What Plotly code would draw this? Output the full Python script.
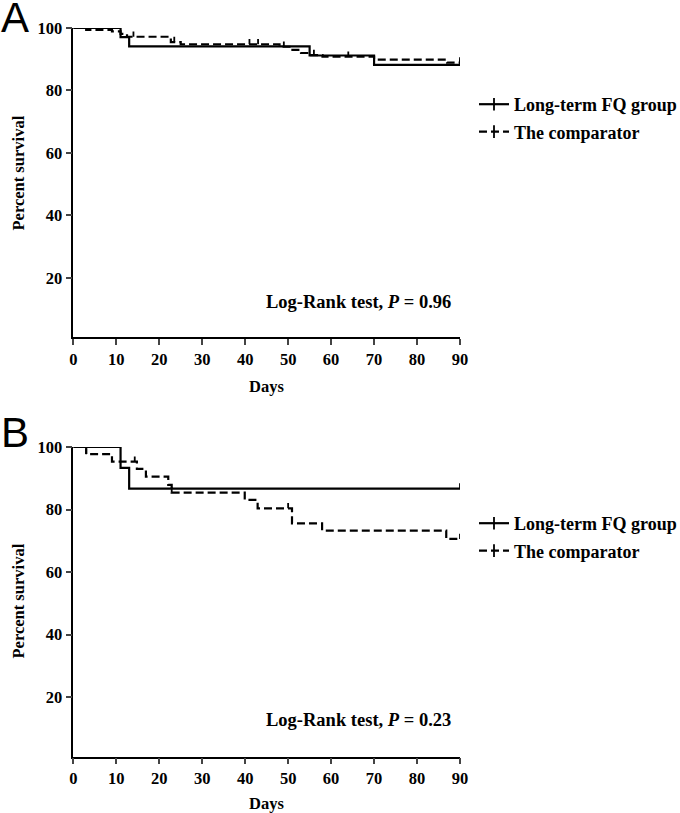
import numpy as np
import plotly.graph_objects as go

# ---------------- data ----------------
series_names = ["Long-term FQ group", "The comparator"]
x_ticks = [0, 10, 20, 30, 40, 50, 60, 70, 80, 90]
y_ticks = [20, 40, 60, 80, 100]

# Panel A
a_fq_days = [0, 11, 13, 55, 70, 90]
a_fq_surv = [100, 97.1, 94.1, 91.2, 88.2, 88.2]
a_fq_censor = [90]
a_cmp_days = [0, 3, 9, 11, 12.5, 22.7, 25, 48, 51, 53, 55, 58, 70, 87, 90]
a_cmp_surv = [100, 99.4, 98.9, 98.1, 97.2, 95.5, 94.8, 94.0, 93.0, 92.0, 91.3, 90.8, 89.9, 88.9, 88.9]
a_cmp_censor = [2.7, 14, 23.5, 41, 43, 49, 56, 64, 90]
a_pvalue = "0.96"

# Panel B
b_fq_days = [0, 11, 13, 90]
b_fq_surv = [100, 93.3, 86.7, 86.7]
b_fq_censor = [90]
b_cmp_days = [0, 3, 9, 14.8, 16.9, 22.1, 22.9, 39.9, 42.9, 50.9, 57.9, 86.8, 90]
b_cmp_surv = [100, 97.7, 95.3, 93.0, 90.5, 87.9, 85.4, 83.1, 80.4, 75.6, 73.3, 70.6, 70.6]
b_cmp_censor = [3, 14.3, 22.9, 50, 90]
b_pvalue = "0.23"

# ---------------- helpers ----------------
W, H = 680, 813
SERIF = "Liberation Serif, Times New Roman, serif"
TICK_H = 1.7  # censor tick height in survival units


def px(x):
    return x / W


def py(y):
    return 1 - y / H


def step_val(days, surv, t):
    idx = np.searchsorted(np.asarray(days), t, side="right") - 1
    return surv[max(idx, 0)]


def censor_segments(days, surv, times):
    xs, ys = [], []
    for t in times:
        v = step_val(days, surv, t)
        xs += [t, t, None]
        ys += [v, v + TICK_H, None]
    return xs, ys


fig = go.Figure()

panels = [
    dict(xa="x", ya="y", legend="legend",
         fq=(a_fq_days, a_fq_surv, a_fq_censor),
         cmp=(a_cmp_days, a_cmp_surv, a_cmp_censor)),
    dict(xa="x2", ya="y2", legend="legend2",
         fq=(b_fq_days, b_fq_surv, b_fq_censor),
         cmp=(b_cmp_days, b_cmp_surv, b_cmp_censor)),
]

LW = 2.2
DASH = "8px,4px"
for p in panels:
    for key, name, dash, grp in [("fq", series_names[0], "solid", "g1"),
                                 ("cmp", series_names[1], DASH, "g2")]:
        d, s, c = p[key]
        fig.add_trace(go.Scatter(
            x=d, y=s, mode="lines", line=dict(color="black", width=LW, dash=dash, shape="hv"),
            xaxis=p["xa"], yaxis=p["ya"], showlegend=False, cliponaxis=False, hoverinfo="skip"))
        cx, cy = censor_segments(d, s, c)
        fig.add_trace(go.Scatter(
            x=cx, y=cy, mode="lines", line=dict(color="black", width=1.8),
            xaxis=p["xa"], yaxis=p["ya"], showlegend=False, cliponaxis=False, hoverinfo="skip"))
        # legend entry
        fig.add_trace(go.Scatter(
            x=[None], y=[None], mode="lines+markers", name=name,
            line=dict(color="black", width=LW, dash=dash),
            marker=dict(symbol="line-ns", size=9, line=dict(color="black", width=1.8)),
            xaxis=p["xa"], yaxis=p["ya"], legend=p["legend"], legendgroup=grp, showlegend=True))

axis_font = dict(family=SERIF, size=16.5, color="black", weight="bold")
common_x = dict(range=[0, 90], tickvals=x_ticks, ticks="outside", ticklen=6, tickwidth=1.5,
                showline=True, linewidth=1.5, linecolor="black", showgrid=False, zeroline=False,
                tickfont=axis_font, domain=[73.3 / W, 460 / W], fixedrange=True, automargin=False)
common_y = dict(range=[1, 100], tickvals=y_ticks, ticks="outside", ticklen=6, tickwidth=1.5,
                showline=True, linewidth=1.5, linecolor="black", showgrid=False, zeroline=False,
                tickfont=axis_font, fixedrange=True, automargin=False)

legend_common = dict(font=dict(family=SERIF, size=18, color="black", weight="bold"),
                     bgcolor="rgba(0,0,0,0)", xanchor="left", yanchor="top",
                     traceorder="grouped", tracegroupgap=1, itemwidth=30)

fig.update_layout(
    width=W, height=H,
    margin=dict(l=0, r=0, t=0, b=0, pad=0, autoexpand=False),
    paper_bgcolor="white", plot_bgcolor="white",
    showlegend=True,
    xaxis=dict(common_x, anchor="y"),
    yaxis=dict(common_y, anchor="x", domain=[py(337.3), py(28)]),
    xaxis2=dict(common_x, anchor="y2"),
    yaxis2=dict(common_y, anchor="x2", domain=[py(756.7), py(447)]),
    legend=dict(legend_common, x=px(474), y=py(86)),
    legend2=dict(legend_common, x=px(474), y=py(505)),
)

title_font = dict(family=SERIF, size=16.5, color="black", weight="bold")
lr_font = dict(family=SERIF, size=18.5, color="black", weight="bold")
annos = []
for (letter, ly), (ytitle_y, days_y, lr_y, pv) in zip(
        [("A", 17.5), ("B", 432)],
        [(173.5, 386, 302, a_pvalue), (601.5, 803, 720, b_pvalue)]):
    annos.append(dict(text=letter, x=px(15), y=py(ly), xref="paper", yref="paper",
                      showarrow=False, font=dict(family="Liberation Sans, Arial, sans-serif", size=42, color="black"),
                      xanchor="center", yanchor="middle"))
    annos.append(dict(text="Percent survival", x=px(18), y=py(ytitle_y), xref="paper", yref="paper",
                      showarrow=False, textangle=-90, font=title_font, xanchor="center", yanchor="middle"))
    annos.append(dict(text="Days", x=px(266.5), y=py(days_y), xref="paper", yref="paper",
                      showarrow=False, font=title_font, xanchor="center", yanchor="middle"))
    annos.append(dict(text=f"Log-Rank test, <i>P</i> = {pv}", x=px(358.5), y=py(lr_y),
                      xref="paper", yref="paper", showarrow=False, font=lr_font,
                      xanchor="center", yanchor="middle"))
fig.update_layout(annotations=annos)

fig.write_html("out.html", config={"displayModeBar": False},
               post_script="document.body.style.margin='0';document.body.style.overflow='hidden';")
